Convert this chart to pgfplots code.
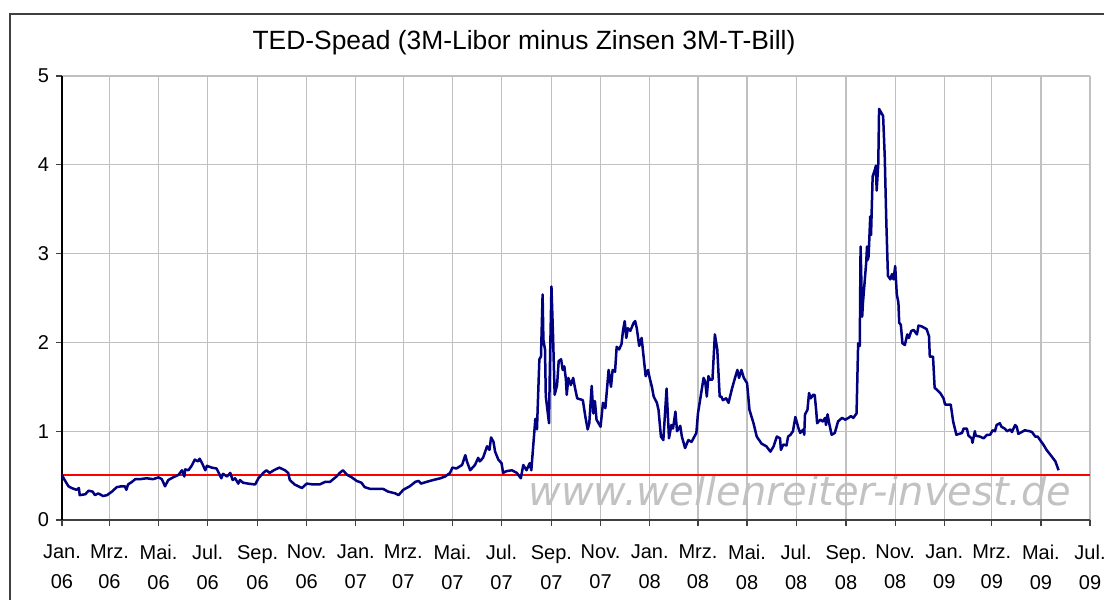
\documentclass[border=0pt]{standalone}
\usepackage{pgfplots}
\pgfplotsset{compat=1.18}
\usepackage{fontspec}
\setmainfont{Liberation Sans}
\newfontfamily\dejavu{DejaVu Sans}
\definecolor{navyline}{HTML}{000080}
\definecolor{gridgray}{HTML}{C0C0C0}
\definecolor{framegray}{HTML}{404040}
\begin{document}
\begin{tikzpicture}
\useasboundingbox (0,0) rectangle (552pt,-300pt);
\draw[framegray, line width=1pt] (5pt,-305pt) -- (5pt,-7pt) -- (560pt,-7pt);
\node[text=black!24, font={\dejavu\itshape\fontsize{20}{22}\selectfont}] at (400pt,-245.5pt) {www.wellenreiter-invest.de};
\node[font=\fontsize{13.2}{15}\selectfont] at (262pt,-21.5pt) {TED-Spead (3M-Libor minus Zinsen 3M-T-Bill)};
\begin{axis}[
  at={(31pt,-260pt)}, anchor=south west,
  width=514pt, height=222pt, scale only axis,
  xmin=0, xmax=1277, ymin=0, ymax=5,
  axis x line*=bottom, axis y line*=left,
  x axis line style={framegray, line width=0.8pt, -},
  y axis line style={black, line width=0.8pt, -},
  tick align=outside, major tick length=3pt,
  tick style={framegray, line width=0.6pt},
  xtick={0,59,120,181,243,304,365,424,485,546,608,669,730,790,851,912,974,1035,1096,1155,1216,1277},
  xticklabels={{Jan.\\06},{Mrz.\\06},{Mai.\\06},{Jul.\\06},{Sep.\\06},{Nov.\\06},{Jan.\\07},{Mrz.\\07},{Mai.\\07},{Jul.\\07},{Sep.\\07},{Nov.\\07},{Jan.\\08},{Mrz.\\08},{Mai.\\08},{Jul.\\08},{Sep.\\08},{Nov.\\08},{Jan.\\09},{Mrz.\\09},{Mai.\\09},{Jul.\\09}},
  xticklabel style={align=center, font=\fontsize{10}{15}\selectfont, yshift=-6pt},
  ytick={0,1,2,3,4,5},
  yticklabel style={font=\fontsize{10}{12}\selectfont},
  /pgf/number format/assume math mode=true,
  grid=major, major grid style={gridgray, line width=0.6pt},
  clip=false,
]
\addplot[red, line width=1pt] coordinates {(0,0.51) (1277,0.51)};
\addplot[navyline, line width=1.25pt, line join=round] coordinates {
(0,0.51)(2,0.47)(8,0.38)(12,0.36)(18,0.34)(21,0.36)(22,0.28)(29,0.29)(33,0.33)(38,0.32)
(41,0.28)(45,0.30)(51,0.27)(56,0.28)(62,0.32)(68,0.37)(74,0.38)(78,0.38)(80,0.34)(82,0.40)
(87,0.43)(91,0.46)(97,0.46)(105,0.47)(113,0.46)(120,0.48)(124,0.46)(128,0.38)(132,0.45)(138,0.48)
(145,0.51)(149,0.56)(152,0.49)(153,0.57)(157,0.56)(161,0.61)(165,0.68)(169,0.66)(171,0.69)(174,0.64)
(178,0.56)(180,0.61)(186,0.59)(192,0.58)(198,0.47)(200,0.52)(205,0.49)(209,0.53)(212,0.45)(215,0.47)
(219,0.41)(221,0.45)(225,0.42)(231,0.41)(240,0.40)(244,0.47)(250,0.53)(254,0.56)(258,0.53)(263,0.56)
(270,0.59)(277,0.56)(281,0.53)(283,0.45)(289,0.40)(298,0.36)(304,0.41)(312,0.40)(320,0.40)(327,0.43)
(333,0.43)(341,0.49)(345,0.53)(349,0.56)(354,0.51)(360,0.48)(366,0.44)(372,0.42)(376,0.37)(383,0.35)
(391,0.35)(399,0.35)(405,0.32)(414,0.30)(418,0.28)(424,0.34)(432,0.38)(439,0.43)(443,0.44)(446,0.41)
(453,0.43)(461,0.45)(470,0.47)(476,0.49)(482,0.53)(485,0.59)(490,0.58)(497,0.62)(501,0.73)(503,0.66)
(507,0.56)(513,0.62)(517,0.70)(519,0.66)(523,0.70)(528,0.83)(531,0.79)(533,0.93)(536,0.88)(538,0.77)
(542,0.68)(546,0.64)(548,0.53)(552,0.55)(559,0.56)(565,0.53)(570,0.47)(573,0.62)(577,0.56)(581,0.64)
(583,0.56)(588,1.14)(590,1.02)(593,1.81)(595,1.84)(597,2.54)(598,2.03)(600,1.92)(601,1.39)(605,1.09)
(606,1.69)(608,2.63)(610,2.07)(612,1.41)(615,1.52)(617,1.79)(620,1.81)(622,1.69)(624,1.73)(626,1.58)
(627,1.41)(629,1.60)(632,1.52)(635,1.60)(637,1.50)(640,1.37)(647,1.35)(650,1.17)(653,1.02)(655,1.09)
(658,1.51)(660,1.20)(662,1.34)(664,1.13)(669,1.05)(672,1.32)(675,1.26)(679,1.69)(682,1.50)(684,1.69)
(687,1.67)(689,1.95)(692,1.92)(695,1.98)(697,2.14)(699,2.24)(701,2.05)(703,2.16)(706,2.13)(710,2.22)
(712,2.24)(714,2.16)(717,1.96)(720,2.05)(722,1.88)(725,1.62)(728,1.69)(730,1.60)(733,1.49)(735,1.39)
(739,1.32)(741,1.24)(744,0.94)(747,0.90)(751,1.48)(754,0.92)(757,1.07)(759,1.03)(762,1.22)(764,1.00)
(768,1.06)(770,0.94)(774,0.81)(778,0.90)(782,0.88)(788,0.98)(790,1.20)(797,1.60)(799,1.56)(801,1.39)
(803,1.62)(805,1.58)(808,1.58)(811,2.09)(814,1.92)(817,1.39)(819,1.39)(821,1.35)(825,1.37)(828,1.32)
(832,1.47)(836,1.60)(839,1.69)(841,1.60)(844,1.69)(847,1.60)(851,1.54)(854,1.24)(859,1.09)(863,0.94)
(869,0.86)(875,0.83)(880,0.77)(884,0.83)(888,0.94)(892,0.92)(893,0.79)(896,0.85)(900,0.84)(902,0.94)
(905,0.96)(908,1.00)(911,1.16)(915,1.03)(917,0.98)(921,1.02)(922,0.96)(923,1.19)(926,1.24)(928,1.43)
(930,1.37)(933,1.41)(935,1.41)(937,1.22)(938,1.09)(942,1.13)(945,1.11)(948,1.15)(949,1.07)(951,1.19)
(953,1.09)(956,0.96)(960,0.98)(964,1.11)(969,1.15)(973,1.13)(977,1.15)(980,1.17)(983,1.15)(987,1.20)
(989,1.99)(991,1.96)(992,3.08)(994,2.29)(995,2.45)(999,2.90)(1000,3.08)(1001,2.93)(1002,2.97)(1004,3.42)
(1005,3.21)(1007,3.87)(1010,3.95)(1011,3.99)(1012,3.71)(1014,4.01)(1015,4.63)(1020,4.55)(1022,4.10)(1024,3.35)
(1026,2.75)(1029,2.71)(1031,2.77)(1033,2.71)(1035,2.86)(1037,2.54)(1039,2.45)(1040,2.22)(1042,2.20)(1044,1.99)
(1047,1.97)(1050,2.09)(1052,2.05)(1055,2.13)(1058,2.14)(1062,2.09)(1064,2.19)(1068,2.18)(1074,2.15)(1077,2.07)
(1078,1.84)(1082,1.84)(1084,1.49)(1091,1.43)(1095,1.37)(1097,1.30)(1104,1.30)(1107,1.11)(1111,0.96)(1118,0.98)
(1120,1.03)(1124,1.03)(1126,0.95)(1130,0.92)(1131,0.87)(1134,1.00)(1135,0.95)(1140,0.94)(1145,0.92)(1149,0.96)
(1153,0.96)(1156,1.01)(1159,1.00)(1161,1.07)(1165,1.09)(1167,1.05)(1171,1.03)(1174,1.00)(1178,1.02)(1180,0.99)
(1184,1.07)(1186,1.05)(1188,0.97)(1192,0.99)(1196,1.01)(1202,1.00)(1205,0.99)(1209,0.94)(1212,0.94)(1215,0.90)
(1219,0.85)(1223,0.79)(1229,0.72)(1234,0.66)(1238,0.56)
};
\end{axis}
\end{tikzpicture}
\end{document}
